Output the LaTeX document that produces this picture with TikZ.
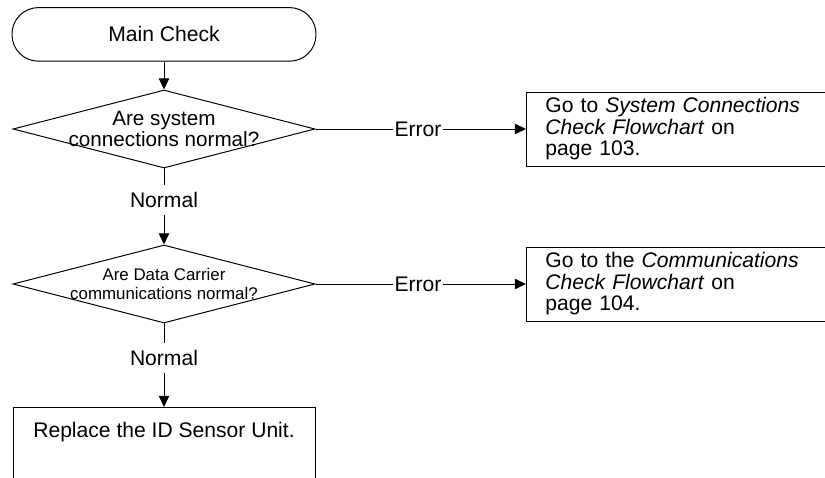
\documentclass[tikz,border=0pt]{standalone}
\usepackage{fontspec}
\setmainfont{Liberation Sans}
\usetikzlibrary{arrows.meta,shapes.geometric}

\begin{document}
\begin{tikzpicture}[
  line width=0.7pt,
  every node/.style={font=\fontsize{15}{15.3}\selectfont},
  terminal/.style={draw, rectangle, rounded corners=0.66cm, minimum width=7.6cm, minimum height=1.34cm},
  decision/.style={draw, diamond, minimum width=7.55cm, minimum height=1.95cm, inner sep=0pt},
  qtext/.style={align=center, inner sep=0pt, font=\fontsize{14.7}{13.5}\selectfont},
  qsmall/.style={qtext, font=\fontsize{12}{13.5}\selectfont},
  goto/.style={draw, anchor=west, text width=7.5cm, align=left, inner xsep=0.475cm, minimum height=1.85cm},
  process/.style={draw, anchor=north, minimum width=7.55cm, minimum height=3cm},
  tag/.style={inner xsep=1pt, inner ysep=0.16cm},
  flowarrow/.style={-{Triangle[length=0.28cm, width=0.26cm]}},
]
\useasboundingbox (0,0) rectangle (20.625,-11.95);

% Start
\node[terminal] (start) at (4.1, -0.86) {Main Check};

% Questions
\node[decision, label={[qtext]center:Are system\\connections normal?}] (dec1) at (4.1, -3.225) {};
\node[decision, label={[qsmall]center:Are Data Carrier\\communications normal?}] (dec2) at (4.1, -7.1) {};

% Branch tags
\node[tag] (nrm1) at (4.1, -5.0) {Normal};
\node[tag] (nrm2) at (4.1, -8.95) {Normal};
\node[tag] (err1) at (10.45, -3.225) {Error};
\node[tag] (err2) at (10.45, -7.1) {Error};

% Targets (right side runs off the page)
\node[goto] (sys) at (13.15, -3.225) {Go to \textit{System Connections}\\\textit{Check Flowchart} on\\page 103.};
\node[goto] (com) at (13.15, -7.1) {Go to the \textit{Communications}\\\textit{Check Flowchart} on\\page 104.};
\node[process, label={[anchor=north, yshift=-0.25cm]north:Replace the ID Sensor Unit.}] (repl) at (4.1, -10.175) {};

% Connectors
\draw[flowarrow] (start) -- (dec1);
\draw (dec1) -- (nrm1);
\draw[flowarrow] (nrm1) -- (dec2);
\draw (dec2) -- (nrm2);
\draw[flowarrow] (nrm2) -- (repl);
\draw (dec1) -- (err1);
\draw[flowarrow] (err1) -- (sys);
\draw (dec2) -- (err2);
\draw[flowarrow] (err2) -- (com);

\end{tikzpicture}
\end{document}
